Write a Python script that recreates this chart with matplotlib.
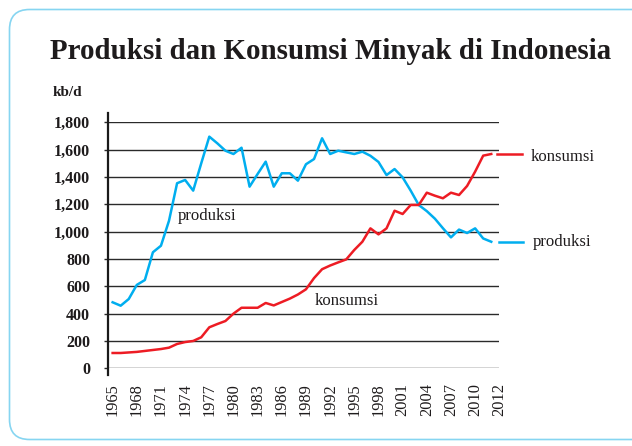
import matplotlib
matplotlib.use("Agg")
import matplotlib.pyplot as plt
from matplotlib.patches import FancyBboxPatch
from matplotlib.lines import Line2D

# Oil production and consumption in Indonesia, thousand barrels per day
years = list(range(1965, 2013))
produksi = [483, 458, 507, 610, 646, 849, 897, 1080, 1354, 1378,
            1300, 1500, 1695, 1646, 1592, 1568, 1614, 1329, 1422, 1512,
            1329, 1427, 1427, 1373, 1493, 1531, 1683, 1568, 1592, 1580,
            1568, 1585, 1555, 1510, 1414, 1458, 1397, 1300, 1195, 1150,
            1095, 1025, 958, 1015, 990, 1024, 950, 926]
konsumsi = [112, 112, 116, 120, 127, 134, 141, 151, 178, 192,
            200, 227, 300, 324, 346, 400, 443, 443, 443, 478,
            460, 485, 510, 540, 578, 660, 725, 752, 775, 797,
            866, 926, 1024, 980, 1024, 1153, 1129, 1195, 1195, 1285,
            1263, 1244, 1285, 1268, 1334, 1439, 1556, 1568]
x_tick_labels = ["1965", "1968", "1971", "1974", "1977", "1980", "1983",
                 "1986", "1989", "1992", "1995", "1998", "2001", "2004",
                 "2007", "2010", "2012"]
y_ticks = [0, 200, 400, 600, 800, 1000, 1200, 1400, 1600, 1800]

BLUE = "#00aeef"
RED = "#ed1c24"
INK = "#1e1b1c"
SERIF = ["Liberation Serif", "DejaVu Serif"]

W, H = 632, 446
fig = plt.figure(figsize=(W / 100, H / 100), dpi=100)

# background frame with rounded corners
bg = fig.add_axes([0, 0, 1, 1])
bg.set_xlim(0, W)
bg.set_ylim(H, 0)
bg.axis("off")
bg.add_patch(FancyBboxPatch((9.5, 9.5), 700, 430,
                            boxstyle="round,pad=0,rounding_size=20",
                            facecolor="white", edgecolor="#86d5f1", lw=1.2))

bg.text(50, 59, "Produksi dan Konsumsi Minyak di Indonesia",
        family=SERIF, weight="bold", fontsize=20.9, color=INK,
        ha="left", va="baseline")
bg.text(53, 96.5, "kb/d", family=SERIF, weight="bold", fontsize=11,
        color=INK, ha="left", va="baseline")

# plotting area
x0, x1 = 108.2, 499.3
y0, y1 = 368.3, 122.3
ax = fig.add_axes([x0 / W, (H - y0) / H, (x1 - x0) / W, (y0 - y1) / H])
ax.set_xlim(1964.45, 2012.73)
ax.set_ylim(0, 1800)
for s in ax.spines.values():
    s.set_visible(False)

ax.set_yticks(y_ticks)
ax.set_yticklabels([f"{v:,}" for v in y_ticks], family=SERIF,
                   weight="bold", fontsize=11.5, color=INK)
ax.yaxis.grid(True, color="#2a2a2a", lw=1.0)
ax.set_axisbelow(True)
ax.tick_params(axis="y", length=3, width=1.0, color="#2a2a2a", pad=10)

tick_pos = [1965 + 3 * i for i in range(len(x_tick_labels))]
ax.set_xticks(tick_pos)
ax.set_xticklabels(x_tick_labels, rotation=90, family=SERIF,
                   fontsize=11.8, color=INK, va="top", ha="center")
ax.tick_params(axis="x", length=0, pad=10.5)

# vertical axis line, running a little past the plotting area
ax.add_line(Line2D([0, 0], [-0.027, 1.038], transform=ax.transAxes,
                   color="#1a1a1a", lw=1.6, clip_on=False))

ax.plot(years, produksi, color=BLUE, lw=1.8, clip_on=False, zorder=3)
ax.plot(years, konsumsi, color=RED, lw=1.8, clip_on=False, zorder=3)

# inline series labels
ax.text(1973.1, 1085, "produksi", family=SERIF, fontsize=12, color=INK,
        ha="left", va="baseline")
ax.text(1990.1, 463, "konsumsi", family=SERIF, fontsize=12, color=INK,
        ha="left", va="baseline")

# end-of-line keys
ax.plot([2012.73, 2015.78], [konsumsi[-1]] * 2, color=RED, lw=1.8,
        clip_on=False)
ax.plot([2013.0, 2016.0], [produksi[-1]] * 2, color=BLUE, lw=1.8,
        clip_on=False)
ax.text(2016.95, konsumsi[-1] - 50, "konsumsi", family=SERIF, fontsize=12,
        color=INK, ha="left", va="baseline", clip_on=False)
ax.text(2017.2, produksi[-1] - 30, "produksi", family=SERIF, fontsize=12,
        color=INK, ha="left", va="baseline", clip_on=False)

fig.savefig("out.png", dpi=100)
